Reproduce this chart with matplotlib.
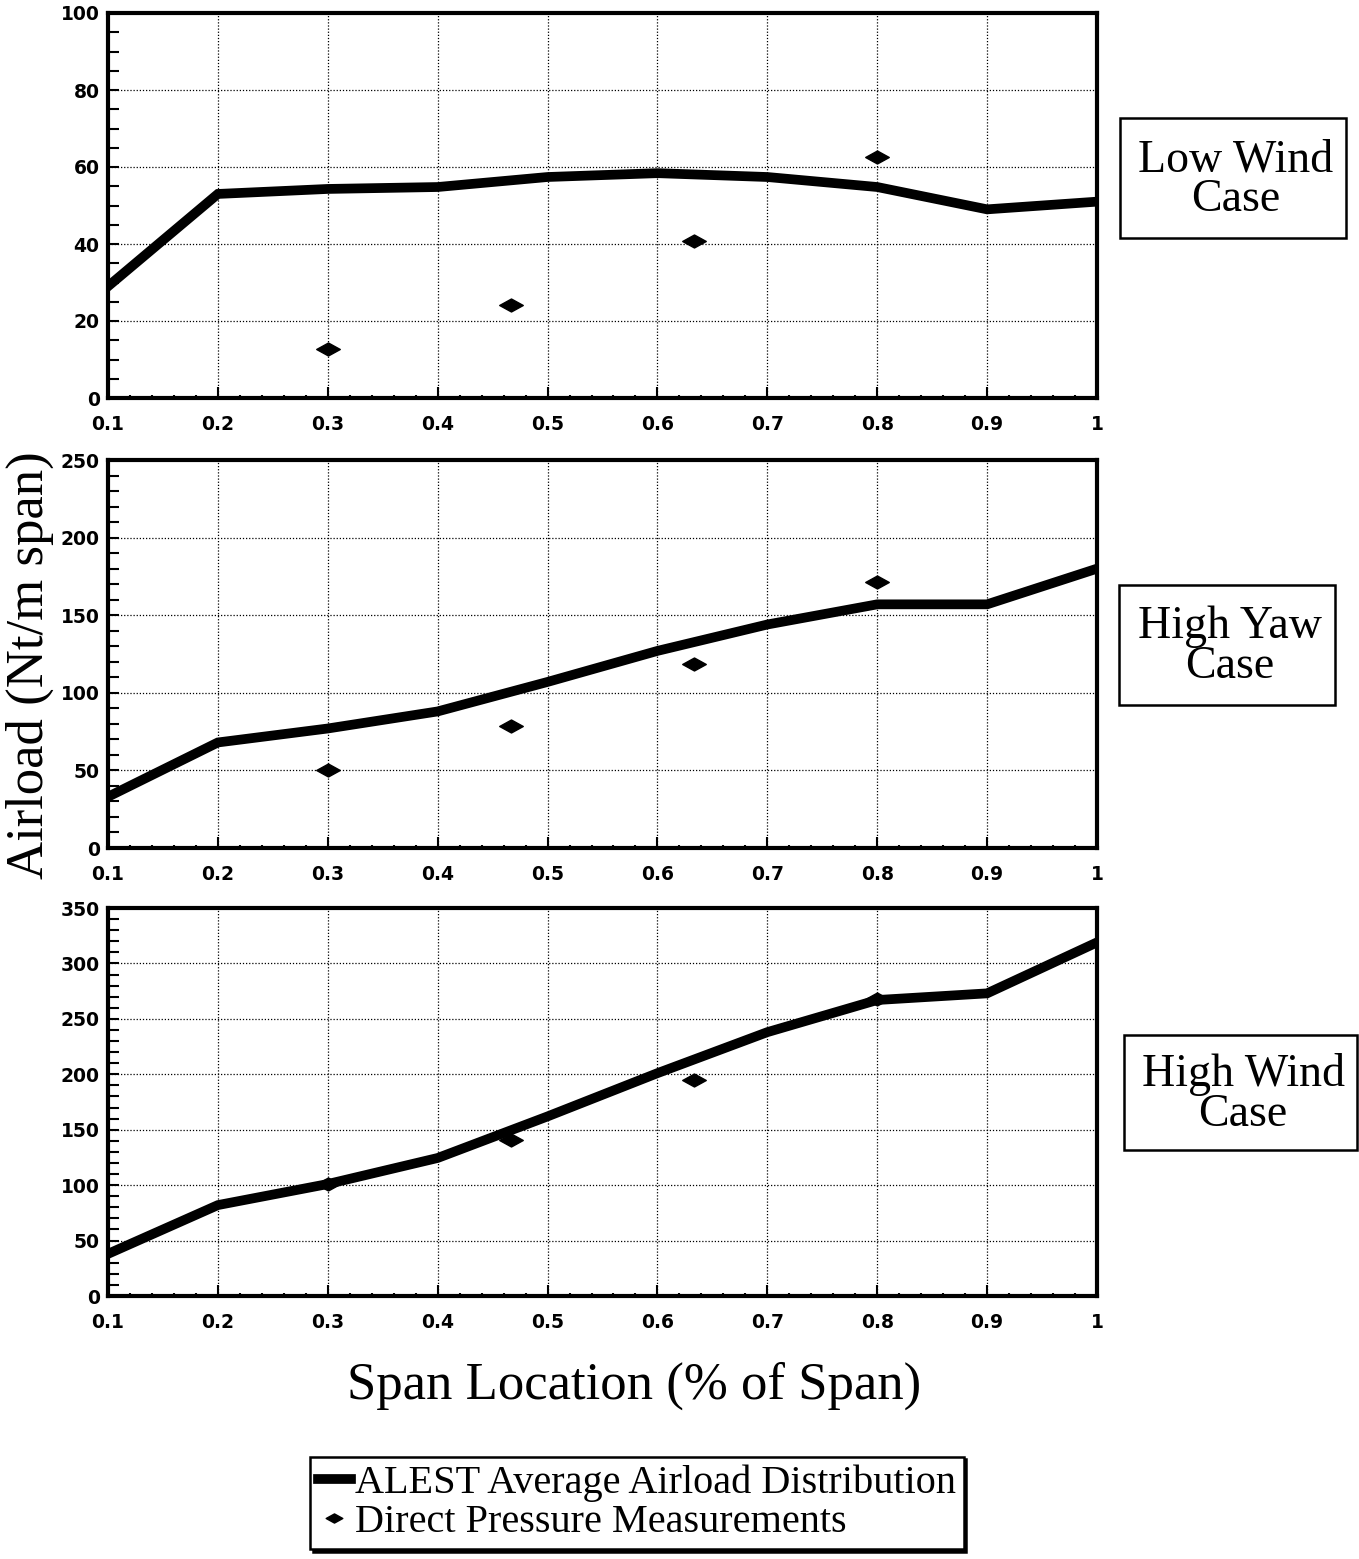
import matplotlib
matplotlib.use("Agg")
import matplotlib.pyplot as plt
from matplotlib.path import Path
from matplotlib.ticker import MultipleLocator, FuncFormatter
from matplotlib.lines import Line2D

# ---- data ----
span = [0.1, 0.2, 0.3, 0.4, 0.5, 0.6, 0.7, 0.8, 0.9, 1.0]
meas_span = [0.3, 0.467, 0.633, 0.8]

low_wind_alest = [29, 53, 54.3, 54.8, 57.4, 58.4, 57.4, 54.8, 49, 51]
low_wind_meas = [12.7, 24.2, 40.8, 62.6]

high_yaw_alest = [33, 68, 77, 88, 107, 127, 144, 157, 157, 180]
high_yaw_meas = [50, 78.6, 118.6, 171.4]

high_wind_alest = [38, 82, 101, 124.5, 162, 201, 238, 267, 273, 319]
high_wind_meas = [101, 141, 195, 268]

case_labels = ["Low Wind\nCase", "High Yaw\nCase", "High Wind\nCase"]
y_max = [100, 250, 350]
y_major = [20, 50, 50]
y_minor = [5, 10, 10]

W, H = 1359, 1559
fig = plt.figure(figsize=(W / 100, H / 100), dpi=100)

diamond = Path([(-1, 0), (0, 0.55), (1, 0), (0, -0.55), (-1, 0)],
               [Path.MOVETO, Path.LINETO, Path.LINETO, Path.LINETO, Path.CLOSEPOLY])

# axes pixel boxes (left, top, right, bottom)
boxes = [(108, 13, 1097, 398), (108, 460, 1097, 848), (108, 908, 1097, 1296)]
label_boxes = [(1120, 118, 1346, 238), (1119, 585, 1335, 705), (1124, 1035, 1357, 1150)]

alest = [low_wind_alest, high_yaw_alest, high_wind_alest]
meas = [low_wind_meas, high_yaw_meas, high_wind_meas]

serif = "Liberation Serif"

def fmt_x(v, pos):
    if abs(v - 1.0) < 1e-9:
        return "1"
    return f"{v:.1f}"

for i in range(3):
    l, t, r, b = boxes[i]
    ax = fig.add_axes([l / W, 1 - b / H, (r - l) / W, (b - t) / H])
    ax.plot(span, alest[i], color="black", lw=7, solid_joinstyle="miter", zorder=3)
    ax.plot(meas_span, meas[i], linestyle="none", marker=diamond, markersize=17,
            color="black", zorder=4)
    ax.set_xlim(0.1, 1.0)
    ax.set_ylim(0, y_max[i])
    ax.xaxis.set_major_locator(MultipleLocator(0.1))
    ax.xaxis.set_minor_locator(MultipleLocator(0.02))
    ax.xaxis.set_major_formatter(FuncFormatter(fmt_x))
    ax.yaxis.set_major_locator(MultipleLocator(y_major[i]))
    ax.yaxis.set_minor_locator(MultipleLocator(y_minor[i]))
    ax.grid(True, which="major", linestyle=(0, (1, 1.5)), color="black", lw=0.9)
    for s in ax.spines.values():
        s.set_linewidth(3)
    ax.tick_params(axis="both", which="major", direction="in", length=8, width=1.5,
                   labelsize=13.5)
    ax.tick_params(axis="y", which="minor", direction="in", length=8, width=1.5)
    ax.tick_params(axis="x", which="minor", direction="in", length=2, width=1.5)
    for lab in ax.get_xticklabels() + ax.get_yticklabels():
        lab.set_fontweight("bold")
        lab.set_fontfamily("DejaVu Sans")
    ax.tick_params(axis="x", which="major", pad=12)
    ax.tick_params(axis="y", which="major", pad=6)

    # case label box
    lx0, ly0, lx1, ly1 = label_boxes[i]
    fig.patches.append(plt.Rectangle((lx0 / W, 1 - ly1 / H), (lx1 - lx0) / W, (ly1 - ly0) / H,
                                     transform=fig.transFigure, fill=False,
                                     edgecolor="black", lw=1.8))
    fig.text((lx0 + lx1) / 2 / W + 0.002, 1 - ((ly0 + ly1) / 2 + 2) / H, case_labels[i],
             ha="center", va="center", fontsize=33, family=serif, linespacing=0.92)

fig.text(30 / W, 1 - 665 / H, "Airload (Nt/m span)", rotation=90, ha="center",
         va="center", fontsize=38, family=serif)
fig.text(634 / W, 1 - 1386 / H, "Span Location (% of Span)", ha="center",
         va="center", fontsize=38, family=serif)

# legend
handles = [Line2D([], [], color="black", lw=7),
           Line2D([], [], linestyle="none", marker=diamond, color="black", markersize=12)]
leg = fig.legend(handles, ["ALEST Average Airload Distribution", "Direct Pressure Measurements"],
                 loc="center", bbox_to_anchor=(637 / W, 1 - 1503 / H),
                 prop={"family": serif, "size": 29}, frameon=True, fancybox=False,
                 edgecolor="black", handlelength=0.8, handletextpad=0.1,
                 borderpad=0.2, labelspacing=0.05, borderaxespad=0,
                 shadow={"color": "black", "alpha": 1.0})
leg.get_frame().set_linewidth(1.8)

fig.savefig("out.png", dpi=100)
